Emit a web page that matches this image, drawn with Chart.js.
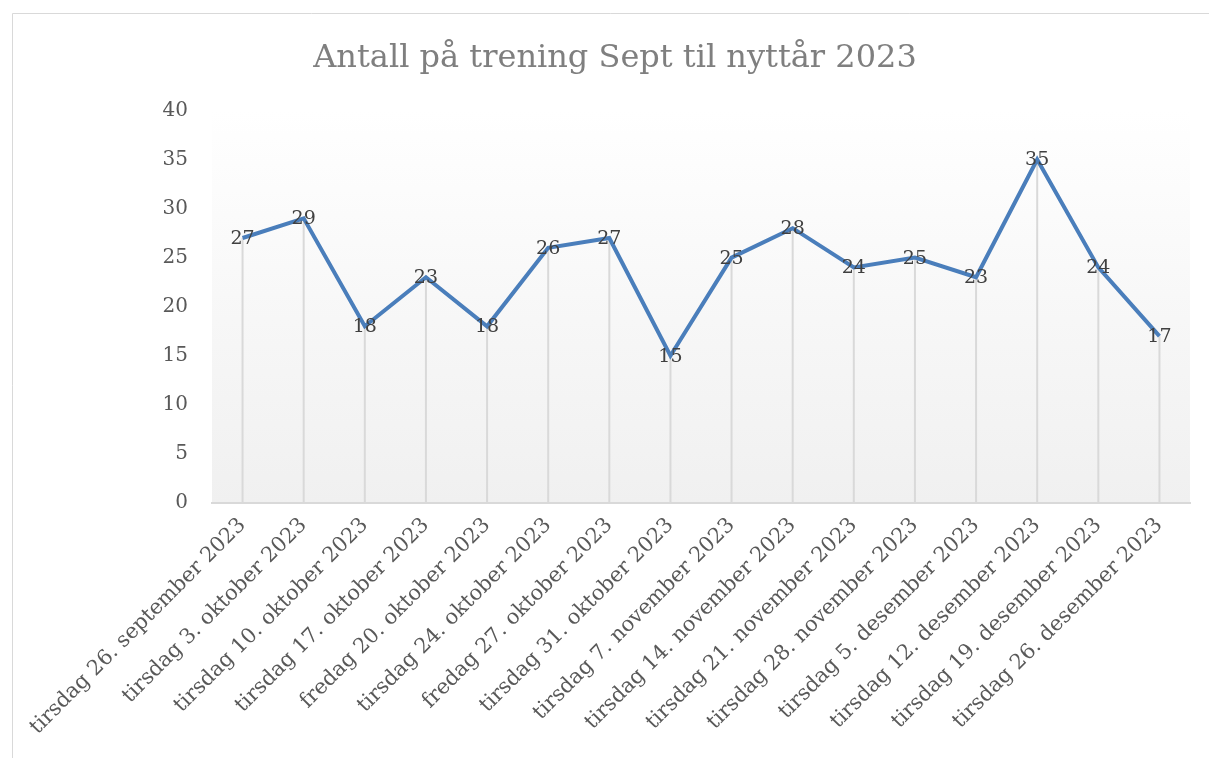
<!DOCTYPE html>
<html>
<head>
<meta charset="utf-8">
<script src="https://cdn.jsdelivr.net/npm/chart.js@4.4.1/dist/chart.umd.min.js"></script>
<style>
  html, body { margin: 0; padding: 0; background: #fff; }
  #wrap { width: 1209px; height: 758px; position: relative; }
</style>
</head>
<body>
<div id="wrap"><canvas id="myChart"></canvas></div>
<script>
// data
var labels = [
  "tirsdag 26. september 2023", "tirsdag 3. oktober 2023", "tirsdag 10. oktober 2023",
  "tirsdag 17. oktober 2023", "fredag 20. oktober 2023", "tirsdag 24. oktober 2023",
  "fredag 27. oktober 2023", "tirsdag 31. oktober 2023", "tirsdag 7. november 2023",
  "tirsdag 14. november 2023", "tirsdag 21. november 2023", "tirsdag 28. november 2023",
  "tirsdag 5. desember 2023", "tirsdag 12. desember 2023", "tirsdag 19. desember 2023",
  "tirsdag 26. desember 2023"
];
var antall = [27, 29, 18, 23, 18, 26, 27, 15, 25, 28, 24, 25, 23, 35, 24, 17];
var yTicks = [0, 5, 10, 15, 20, 25, 30, 35, 40];

var serif = "'DejaVu Serif', 'Liberation Serif', serif";

// bakgrunn, ramme og dropplinjer
var bgPlugin = {
  id: "bg",
  beforeDraw: function(chart) {
    var c = chart.ctx, a = chart.chartArea;
    c.save();
    c.fillStyle = "#fff";
    c.fillRect(0, 0, chart.width, chart.height);
    c.strokeStyle = "#d9d9d9";
    c.lineWidth = 1;
    c.beginPath();
    c.moveTo(12.5, chart.height);
    c.lineTo(12.5, 13.5);
    c.lineTo(chart.width, 13.5);
    c.stroke();
    var g = c.createLinearGradient(0, a.top, 0, a.bottom);
    g.addColorStop(0, "#ffffff");
    g.addColorStop(1, "#f0f0f0");
    c.fillStyle = g;
    c.fillRect(a.left, a.top, a.right - a.left, a.bottom - a.top);
    c.restore();
  },
  beforeDatasetsDraw: function(chart) {
    var c = chart.ctx, a = chart.chartArea;
    var meta = chart.getDatasetMeta(0);
    c.save();
    c.strokeStyle = "#d9d9d9";
    c.lineWidth = 2;
    meta.data.forEach(function(p) {
      c.beginPath();
      c.moveTo(p.x, p.y);
      c.lineTo(p.x, a.bottom);
      c.stroke();
    });
    c.restore();
  },
  afterDatasetsDraw: function(chart) {
    var c = chart.ctx;
    var meta = chart.getDatasetMeta(0);
    c.save();
    c.font = "19px " + serif;
    c.fillStyle = "#404040";
    c.textAlign = "center";
    c.textBaseline = "middle";
    meta.data.forEach(function(p, i) {
      c.fillText(antall[i], p.x, p.y + 1);
    });
    c.restore();
  }
};

new Chart(document.getElementById("myChart"), {
  type: "line",
  data: {
    labels: labels,
    datasets: [{
      data: antall,
      borderColor: "#4a7ebb",
      borderWidth: 4,
      pointRadius: 0,
      fill: false,
      tension: 0
    }]
  },
  options: {
    responsive: true,
    maintainAspectRatio: false,
    animation: false,
    layout: { padding: { left: 40, right: 19, top: 0, bottom: 0 } },
    plugins: {
      legend: { display: false },
      tooltip: { enabled: false },
      title: {
        display: true,
        text: "Antall på trening Sept til nyttår 2023",
        color: "#7f7f7f",
        font: { family: serif, size: 32, weight: "normal" },
        padding: { top: 39, bottom: 33 }
      }
    },
    scales: {
      x: {
        offset: true,
        grid: { display: false, drawTicks: false },
        border: { display: true, color: "#d9d9d9", width: 2 },
        ticks: {
          color: "#595959",
          font: { family: serif, size: 21 },
          minRotation: 45,
          maxRotation: 45,
          autoSkip: false,
          padding: 10
        },
        afterFit: function(s) { s.height = 255; }
      },
      y: {
        min: 0,
        max: 40,
        afterBuildTicks: function(s) { s.ticks = yTicks.map(function(v) { return { value: v }; }); },
        grid: { display: false, drawTicks: false },
        border: { display: false },
        ticks: {
          color: "#595959",
          font: { family: serif, size: 20 },
          padding: 24
        },
        afterFit: function(s) { s.width = 172; }
      }
    }
  },
  plugins: [bgPlugin]
});
</script>
</body>
</html>
